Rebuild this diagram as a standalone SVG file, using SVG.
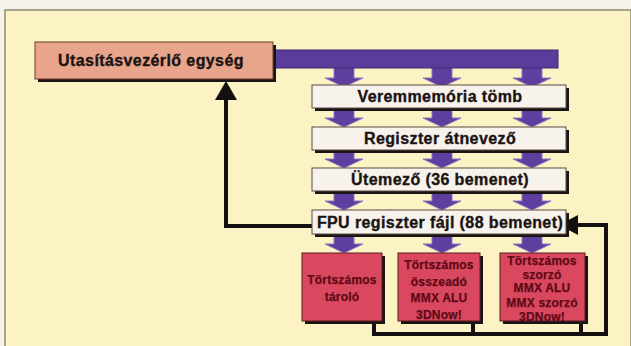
<svg xmlns="http://www.w3.org/2000/svg" width="631" height="346" viewBox="0 0 631 346">
<defs>
<style>
.bg{fill:#f4f2ea}
.frame{fill:#fbf3c4;stroke:#8f8c6c;stroke-width:1.5}
.shadow{fill:#1a1414}
.top{fill:#e9a58c;stroke:#6a3a2a;stroke-width:1}
.box{fill:#f7f3ec;stroke:#5a4a40;stroke-width:1}
.red{fill:#d9485e;stroke:#5a1a20;stroke-width:1}
.bar{fill:#5b3c9b;stroke:#3e2670;stroke-width:1}
.arr{fill:#5e3fa0;stroke:#8a78c0;stroke-width:1}
.wire{fill:none;stroke:#141010;stroke-width:4;stroke-linejoin:miter}
.head{fill:#141010}
.lbl{font-family:"Liberation Sans",Arial,sans-serif;font-weight:bold;font-size:16px;letter-spacing:0.4px;fill:#1a1414;stroke:#1a1414;stroke-width:0.35;text-anchor:middle}
.rl{font-family:"Liberation Sans",Arial,sans-serif;font-weight:bold;font-size:12px;letter-spacing:0.2px;fill:#5e0a18;stroke:#5e0a18;stroke-width:0.25;text-anchor:middle}
</style>
<path id="darr" d="M-10,-22 H10 V-9 H19 L0,0 L-19,-9 H-10 Z"/>
</defs>
<rect class="bg" x="0" y="0" width="631" height="346"/>
<rect class="frame" x="5" y="10" width="626" height="340"/>

<g id="arrows-purple">
<use href="#darr" class="arr" x="344" y="87"/>
<use href="#darr" class="arr" x="442" y="87"/>
<use href="#darr" class="arr" x="532" y="87"/>
<use href="#darr" class="arr" x="344" y="127"/>
<use href="#darr" class="arr" x="442" y="127"/>
<use href="#darr" class="arr" x="532" y="127"/>
<use href="#darr" class="arr" x="344" y="168"/>
<use href="#darr" class="arr" x="442" y="168"/>
<use href="#darr" class="arr" x="532" y="168"/>
<use href="#darr" class="arr" x="344" y="210"/>
<use href="#darr" class="arr" x="442" y="210"/>
<use href="#darr" class="arr" x="532" y="210"/>
<use href="#darr" class="arr" x="344" y="253"/>
<use href="#darr" class="arr" x="442" y="253"/>
<use href="#darr" class="arr" x="532" y="253"/>
</g>

<g id="connectors">
<path class="wire" d="M313,226 H226 V98"/>
<polygon class="head" points="215,100 237,100 226,81"/>
<path class="wire" d="M374,321 V334 M473,321 V334 M581,321 V334 M372,334 H606 V225 H576"/>
<polygon class="head" points="578,215 578,235 559,225"/>
</g>

<g id="bus">
<rect class="bar" x="272" y="50" width="286" height="18"/>
</g>

<g id="n-utasitas">
<rect class="shadow" x="38" y="45" width="238" height="37"/>
<rect class="top" x="35" y="42" width="238" height="37"/>
<text class="lbl" x="151" y="66">Utasításvezérlő egység</text>
</g>

<g id="n-verem">
<rect class="shadow" x="315" y="88" width="254" height="23"/>
<rect class="box" x="312" y="85" width="254" height="23"/>
<text class="lbl" x="440" y="102">Veremmemória tömb</text>
</g>
<g id="n-regiszter">
<rect class="shadow" x="315" y="130" width="254" height="23"/>
<rect class="box" x="312" y="127" width="254" height="23"/>
<text class="lbl" x="440" y="144">Regiszter átnevező</text>
</g>
<g id="n-utemezo">
<rect class="shadow" x="315" y="171" width="254" height="23"/>
<rect class="box" x="312" y="168" width="254" height="23"/>
<text class="lbl" x="440" y="185">Ütemező (36 bemenet)</text>
</g>
<g id="n-fpu">
<rect class="shadow" x="315" y="213" width="254" height="24"/>
<rect class="box" x="312" y="210" width="254" height="24"/>
<text class="lbl" x="440" y="228">FPU regiszter fájl (88 bemenet)</text>
</g>

<g id="n-taro">
<rect class="shadow" x="305" y="256" width="80" height="68"/>
<rect class="red" x="302" y="253" width="80" height="68"/>
<text class="rl" x="342" y="284">Törtszámos</text>
<text class="rl" x="342" y="301">tároló</text>
</g>
<g id="n-osszeado">
<rect class="shadow" x="401" y="256" width="82" height="68"/>
<rect class="red" x="398" y="253" width="82" height="68"/>
<text class="rl" x="439" y="269">Törtszámos</text>
<text class="rl" x="439" y="286">összeadó</text>
<text class="rl" x="439" y="302">MMX ALU</text>
<text class="rl" x="439" y="319">3DNow!</text>
</g>
<g id="n-szorzo">
<rect class="shadow" x="503" y="256" width="85" height="68"/>
<rect class="red" x="500" y="253" width="85" height="68"/>
<text class="rl" x="542" y="265">Törtszámos</text>
<text class="rl" x="542" y="279">szorzó</text>
<text class="rl" x="542" y="292">MMX ALU</text>
<text class="rl" x="542" y="307">MMX szorzó</text>
<text class="rl" x="542" y="321">3DNow!</text>
</g>
</svg>
